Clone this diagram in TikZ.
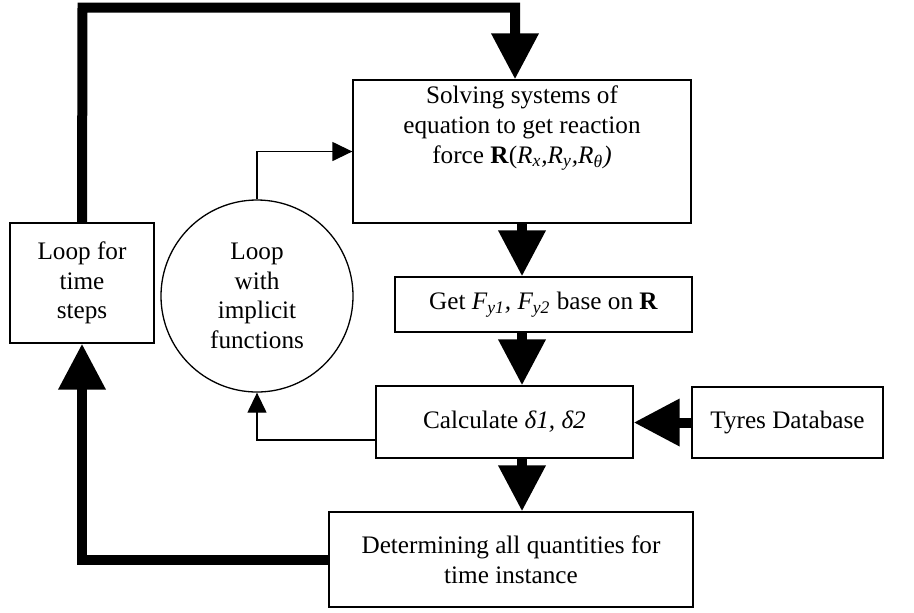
\documentclass[tikz,border=0pt]{standalone}
\usepackage{fontspec}
\setmainfont{Liberation Serif}
\usetikzlibrary{arrows.meta, positioning}

\begin{document}
\begin{tikzpicture}[
    x=0.5pt, y=-0.5pt,
    every node/.style={font=\fontsize{12.6}{14.8}\selectfont, align=center, inner sep=0pt, line width=0.65pt},
    stepbox/.style={draw, rectangle},
    loopcircle/.style={draw, circle, minimum size=96pt},
    fatarrow/.style={line width=5pt, -{Triangle[length=23pt, width=22.5pt]}},
    thinarrow/.style={line width=0.65pt, -{Triangle[length=10pt, width=9.5pt]}}
]

\useasboundingbox (0,0) rectangle (914,612);

% Main column
\node[stepbox, minimum width=169pt, minimum height=71.5pt] (solve) at (522,151.5)
    {Solving systems of\\equation to get reaction\\force \textbf{R}(\textit{R\textsubscript{x},R\textsubscript{y},R\textsubscript{θ})}\\[12pt]\mbox{}};
\node[stepbox, minimum width=148.5pt, minimum height=27.5pt] (get) at (543.5,304.5)
    {Get \textit{F\textsubscript{y1}, F\textsubscript{y2}} base on \textbf{R}};
\node[stepbox, minimum width=128.5pt, minimum height=36pt] (calc) at (504.5,422)
    {Calculate \textit{δ1, δ2}};
\node[stepbox, minimum width=182pt, minimum height=47.5pt] (determ) at (511,559.5)
    {Determining all quantities for\\time instance};

% Side nodes
\node[stepbox, minimum width=95.5pt, minimum height=35.5pt] (tyres) at (787.5,422.5) {Tyres Database};
\node[stepbox, minimum width=72pt, minimum height=60pt] (loop) at (82,283) {Loop for\\time\\steps};
\node[loopcircle] (inner) at (257,296) {Loop\\with\\implicit\\functions};

% Time loop
\coordinate (topleft) at (82.5,7.5);
\coordinate (topright) at (515,7.5);
\draw[fatarrow] (loop.north) -- (topleft) -- (topright) -- (topright |- solve.north);
\draw[fatarrow] (determ.west) -| (loop.south);

% Arrows down the column
\foreach \i/\j in {solve/get, get/calc, calc/determ}
    \draw[fatarrow] (solve.south |- \i.south) -- (solve.south |- \j.north);

\draw[fatarrow] (tyres.west) -- (tyres.west -| calc.east);

% Implicit loop
\draw[thinarrow] ([yshift=-9pt]calc.west) -| (inner.south);
\draw[thinarrow] (inner.north) |- (solve.west);

\end{tikzpicture}
\end{document}
